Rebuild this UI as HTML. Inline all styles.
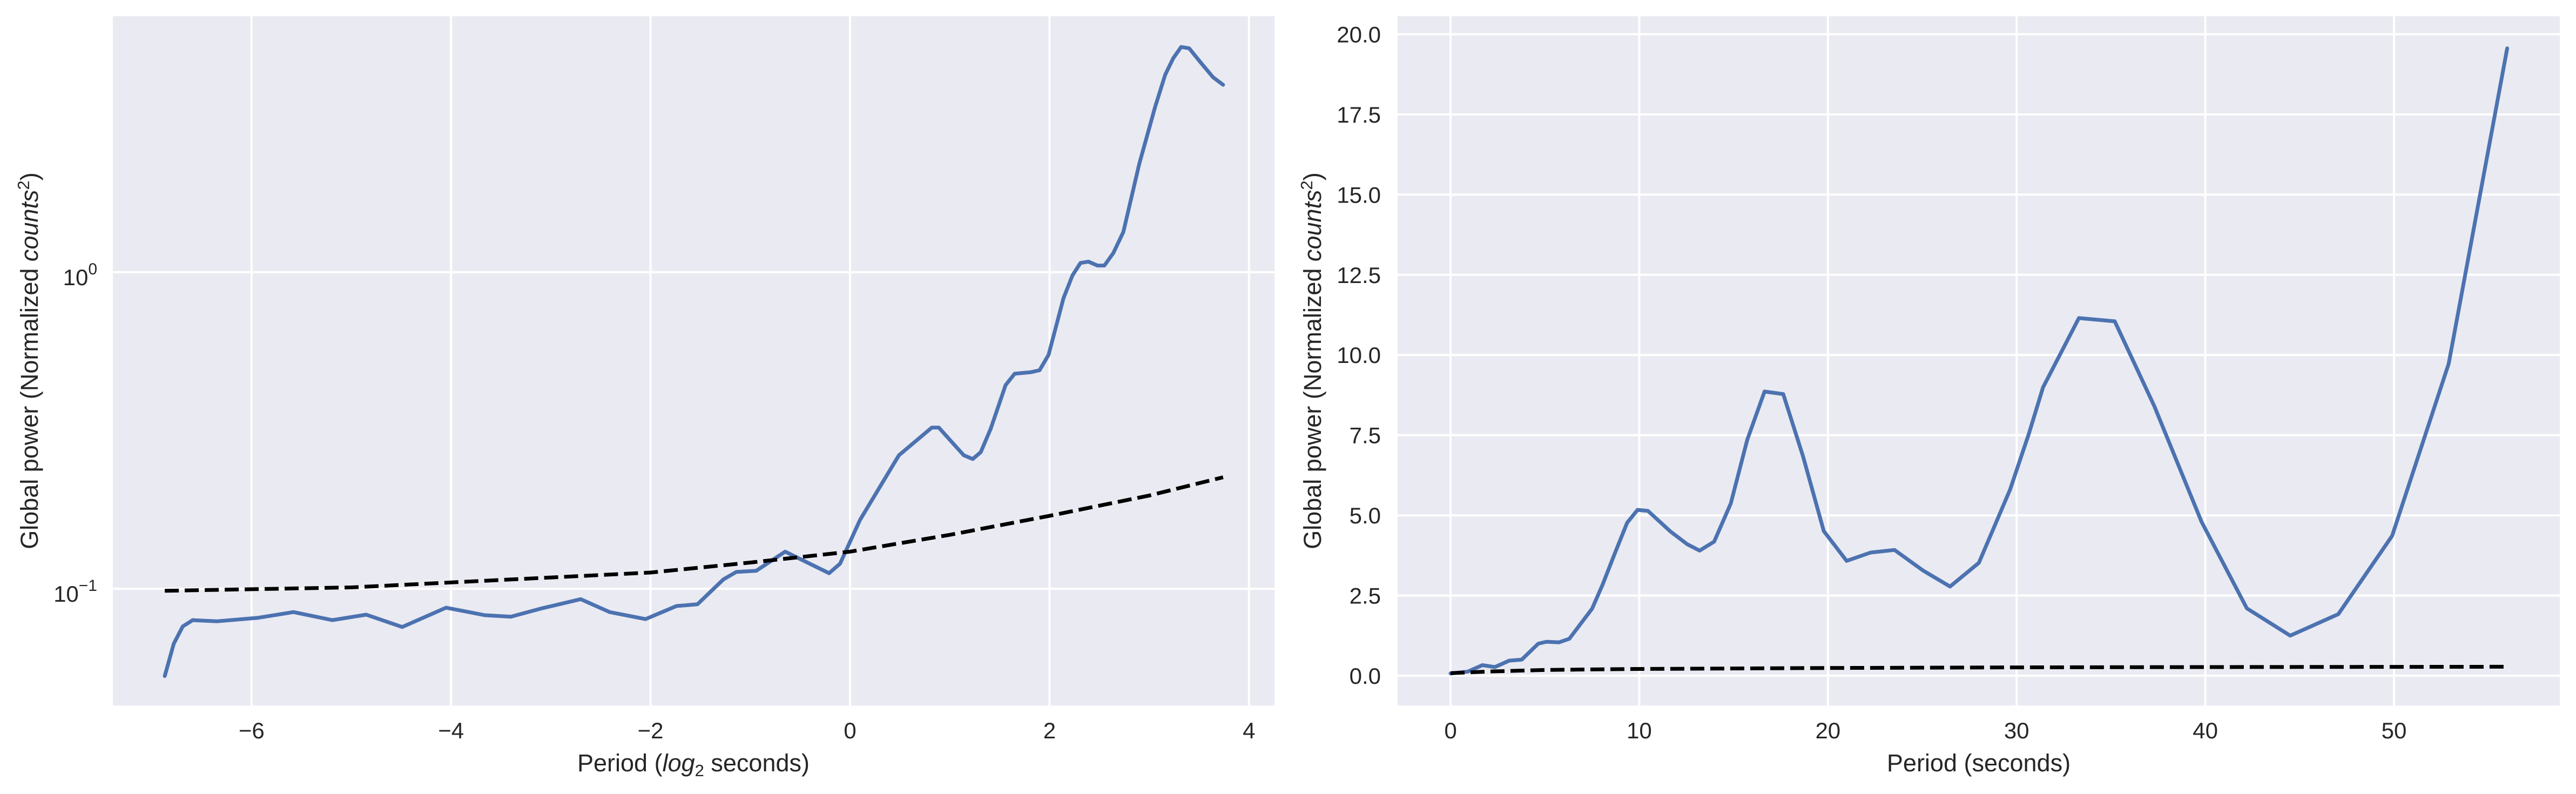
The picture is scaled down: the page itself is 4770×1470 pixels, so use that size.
<!DOCTYPE html>
<html><head><meta charset="utf-8"><title>Global wavelet power</title>
<style>
html,body{margin:0;padding:0;background:#fff;}
svg{display:block;font-family:"Liberation Sans",Arial,sans-serif;}
</style></head>
<body>
<svg id="fig" width="4770" height="1470" viewBox="0 0 4770 1470" xmlns="http://www.w3.org/2000/svg">
<defs>
<clipPath id="clipL"><rect x="209" y="30" width="2151" height="1276"/></clipPath>
<clipPath id="clipR"><rect x="2588" y="30" width="2152" height="1276"/></clipPath>
</defs>
<g id="left">
<rect x="209" y="30" width="2151" height="1276" fill="#EAEAF2"/>
<g id="lgrid"></g>
<g id="lticks"></g>
<g clip-path="url(#clipL)" id="lseries"></g>
<text x="1284" y="1428" font-size="45" text-anchor="middle" fill="#262626">Period (<tspan font-style="italic">log</tspan><tspan font-size="31" dy="9">2</tspan><tspan dy="-9"> seconds)</tspan></text>
<text transform="translate(70,668) rotate(-90)" font-size="45" text-anchor="middle" fill="#262626">Global power (Normalized <tspan font-style="italic">counts</tspan><tspan font-size="31" dy="-16">2</tspan><tspan dy="16">)</tspan></text>
</g>
<g id="right">
<rect x="2588" y="30" width="2152" height="1276" fill="#EAEAF2"/>
<g id="rgrid"></g>
<g id="rticks"></g>
<g clip-path="url(#clipR)" id="rseries"></g>
<text x="3664" y="1428" font-size="45" text-anchor="middle" fill="#262626">Period (seconds)</text>
<text transform="translate(2446,668) rotate(-90)" font-size="45" text-anchor="middle" fill="#262626">Global power (Normalized <tspan font-style="italic">counts</tspan><tspan font-size="31" dy="-16">2</tspan><tspan dy="16">)</tspan></text>
</g>
</svg>
<script>
// ---- Left panel data (log2 period vs power, log scale) ----
const leftX = [-6.87,-6.78,-6.69,-6.59,-6.35,-5.94,-5.58,-5.19,-4.85,-4.49,-4.05,-3.66,-3.40,-3.09,-2.70,-2.41,-2.05,-1.74,-1.53,-1.27,-1.14,-0.94,-0.65,-0.21,-0.10,0.10,0.49,0.82,0.89,1.14,1.23,1.31,1.41,1.56,1.65,1.81,1.90,1.99,2.14,2.23,2.31,2.39,2.48,2.55,2.64,2.74,2.90,3.06,3.16,3.24,3.32,3.40,3.52,3.64,3.74];
const leftPower = [0.053,0.067,0.076,0.0796,0.0789,0.0809,0.0844,0.0796,0.0828,0.0757,0.0871,0.0825,0.0816,0.0867,0.0927,0.0844,0.0802,0.0882,0.0893,0.107,0.113,0.114,0.131,0.112,0.120,0.165,0.264,0.323,0.323,0.264,0.257,0.27,0.320,0.44,0.478,0.483,0.49,0.548,0.828,0.977,1.07,1.08,1.05,1.05,1.15,1.34,2.20,3.34,4.21,4.74,5.15,5.10,4.58,4.13,3.91];
const leftSigX = [-6.87,-5,-3.66,-2,-1,0,1,2,3,3.74];
const leftSig = [0.0985,0.101,0.106,0.1125,0.121,0.131,0.148,0.170,0.197,0.225];
const leftXTicks = [-6,-4,-2,0,2,4];
const leftXTickLabels = ["\u22126","\u22124","\u22122","0","2","4"];
const leftYTickExp = [0,-1];
// ---- Right panel data (period seconds vs power, linear) ----
const rightX = [0,0.92,1.69,2.35,3.11,3.77,4.65,5.09,5.75,6.29,6.95,7.5,8.05,8.71,9.36,9.91,10.46,11.67,12.54,13.2,13.97,14.85,15.72,16.64,17.63,18.68,19.78,20.99,22.26,23.53,25.04,26.47,28.0,29.65,30.64,31.4,33.3,35.2,37.3,39.8,42.2,44.5,47.05,49.9,52.9,56.0];
const rightPower = [0.07,0.13,0.33,0.27,0.47,0.5,1.0,1.06,1.04,1.15,1.66,2.09,2.83,3.82,4.77,5.17,5.14,4.49,4.10,3.9,4.18,5.37,7.35,8.86,8.78,6.84,4.51,3.58,3.84,3.92,3.28,2.78,3.52,5.80,7.53,8.99,11.15,11.05,8.4,4.8,2.1,1.25,1.92,4.36,9.73,19.56];
const rightSigX = [0,2,5,10,20,30,40,56];
const rightSig = [0.08,0.13,0.18,0.21,0.24,0.26,0.27,0.28];
const rightXTicks = [0,10,20,30,40,50];
const rightYTicks = [0,2.5,5,7.5,10,12.5,15,17.5,20];

const NS="http://www.w3.org/2000/svg";
function mk(tag,parent){const e=document.createElementNS(NS,tag);parent.appendChild(e);return e;}
const lx = v => 1574 + 184.7*v;
const ly = v => 504 - 586*Math.log10(v);
const rx = v => 2686 + 34.94*v;
const ry = v => 1251 - 59.38*v;

const lgrid=document.getElementById('lgrid'), lticks=document.getElementById('lticks'), lser=document.getElementById('lseries');
const rgrid=document.getElementById('rgrid'), rticks=document.getElementById('rticks'), rser=document.getElementById('rseries');

leftXTicks.forEach((t,i)=>{
  const g=mk('line',lgrid);
  
  
  g.setAttribute('x1',lx(t));g.setAttribute('x2',lx(t));g.setAttribute('y1',30);g.setAttribute('y2',1306);
  g.setAttribute('stroke','#fff');g.setAttribute('stroke-width',4);
  const tx=mk('text',lticks);
  
  
  tx.setAttribute('x',lx(t));tx.setAttribute('y',1367);tx.setAttribute('font-size',42);
  tx.setAttribute('text-anchor','middle');tx.setAttribute('fill','#262626');
  tx.textContent=leftXTickLabels[i];
});
leftYTickExp.forEach(e=>{
  const y=ly(Math.pow(10,e));
  const g=mk('line',lgrid);
  
  
  g.setAttribute('x1',209);g.setAttribute('x2',2360);g.setAttribute('y1',y);g.setAttribute('y2',y);
  g.setAttribute('stroke','#fff');g.setAttribute('stroke-width',4);
  const tx=mk('text',lticks);
  
  
  tx.setAttribute('x',180);tx.setAttribute('y',y+24);tx.setAttribute('font-size',42);
  tx.setAttribute('text-anchor','end');tx.setAttribute('fill','#262626');
  const b=mk('tspan',tx);b.textContent='10';
  const s=mk('tspan',tx);s.setAttribute('font-size',30);s.setAttribute('dy',-20);
  s.textContent=(e<0?'\u2212':'')+Math.abs(e);
});
rightXTicks.forEach(t=>{
  const g=mk('line',rgrid);
  
  
  g.setAttribute('x1',rx(t));g.setAttribute('x2',rx(t));g.setAttribute('y1',30);g.setAttribute('y2',1306);
  g.setAttribute('stroke','#fff');g.setAttribute('stroke-width',4);
  const tx=mk('text',rticks);
  
  
  tx.setAttribute('x',rx(t));tx.setAttribute('y',1367);tx.setAttribute('font-size',42);
  tx.setAttribute('text-anchor','middle');tx.setAttribute('fill','#262626');
  tx.textContent=String(t);
});
rightYTicks.forEach(t=>{
  const g=mk('line',rgrid);
  
  
  g.setAttribute('x1',2588);g.setAttribute('x2',4740);g.setAttribute('y1',ry(t));g.setAttribute('y2',ry(t));
  g.setAttribute('stroke','#fff');g.setAttribute('stroke-width',4);
  const tx=mk('text',rticks);
  
  
  tx.setAttribute('x',2557);tx.setAttribute('y',ry(t)+15);tx.setAttribute('font-size',42);
  tx.setAttribute('text-anchor','end');tx.setAttribute('fill','#262626');
  tx.textContent=t.toFixed(1);
});

function pathD(xs,ys,fx,fy){return xs.map((x,i)=>(i?'L':'M')+fx(x).toFixed(1)+','+fy(ys[i]).toFixed(1)).join(' ');}

const lp=mk('path',lser);


lp.setAttribute('d',pathD(leftX,leftPower,lx,ly));
lp.setAttribute('fill','none');lp.setAttribute('stroke','#4C72B0');lp.setAttribute('stroke-width',7);lp.setAttribute('stroke-linejoin','round');lp.setAttribute('stroke-linecap','round');
const ls=mk('path',lser);


ls.setAttribute('d',pathD(leftSigX,leftSig,lx,ly));
ls.setAttribute('fill','none');ls.setAttribute('stroke','#000');ls.setAttribute('stroke-width',7);ls.setAttribute('stroke-dasharray','26 11');

const rp=mk('path',rser);


rp.setAttribute('d',pathD(rightX,rightPower,rx,ry));
rp.setAttribute('fill','none');rp.setAttribute('stroke','#4C72B0');rp.setAttribute('stroke-width',7);rp.setAttribute('stroke-linejoin','round');rp.setAttribute('stroke-linecap','round');
const rs=mk('path',rser);


rs.setAttribute('d',pathD(rightSigX,rightSig,rx,ry));
rs.setAttribute('fill','none');rs.setAttribute('stroke','#000');rs.setAttribute('stroke-width',7);rs.setAttribute('stroke-dasharray','26 11');
</script>
</body></html>
